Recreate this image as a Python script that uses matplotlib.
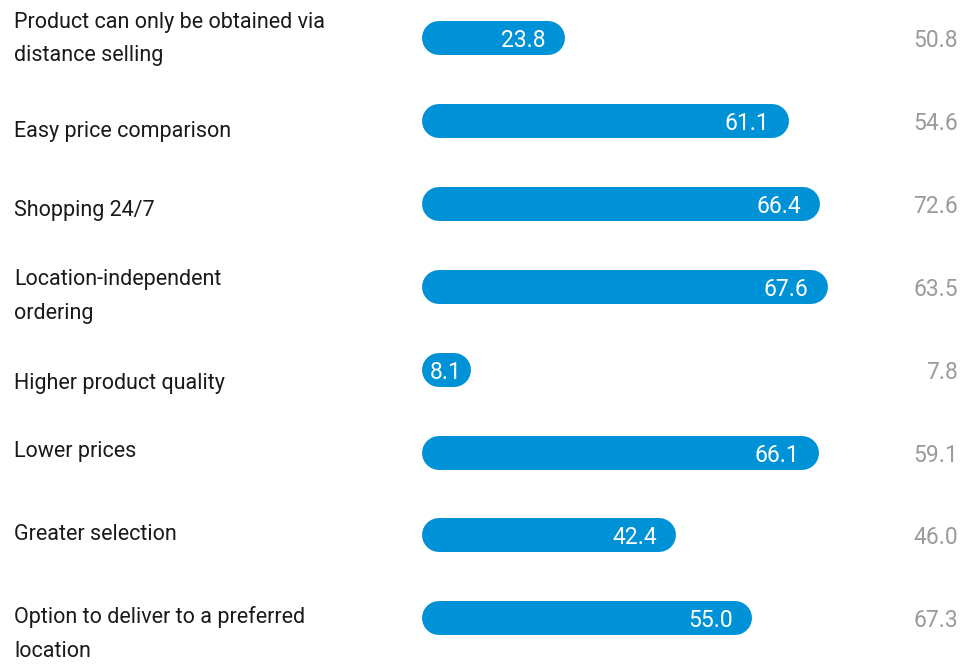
import matplotlib
matplotlib.use("Agg")
import matplotlib.pyplot as plt
from matplotlib.transforms import blended_transform_factory, offset_copy

# Reasons for buying online: current values (bars) and comparison values (right column)
categories = [
    "Product can only be obtained via\ndistance selling",
    "Easy price comparison",
    "Shopping 24/7",
    "Location-independent\nordering",
    "Higher product quality",
    "Lower prices",
    "Greater selection",
    "Option to deliver to a preferred\nlocation",
]
current_values = [23.8, 61.1, 66.4, 67.6, 8.1, 66.1, 42.4, 55.0]
comparison_values = [50.8, 54.6, 72.6, 63.5, 7.8, 59.1, 46.0, 67.3]

W, H, DPI = 964, 664, 100
BAR_COLOR = "#0092d6"
TEXT_COLOR = "#1a1a1a"
GRAY = "#9b9b9b"
FONT = ["Roboto", "DejaVu Sans"]
LABEL_SIZE = 15.5
VALUE_SIZE = 16.5

px_per_unit = 6.0          # horizontal scale of the bars
x0_px = 422                # left edge of the bars
row0_px, row_step_px = 38, 82.9
bar_h_px = 34
label_shift_px = [1, 11, 7, 10, 14, -1, -1, 16]   # fine vertical nudges for the labels

fig = plt.figure(figsize=(W / DPI, H / DPI), dpi=DPI)
ax = fig.add_axes([x0_px / W, 0, (W - x0_px) / W, 1])
ax.set_xlim(0, (W - x0_px) / px_per_unit)
ax.set_ylim((H - row0_px) / row_step_px, -row0_px / row_step_px)
ax.axis("off")

r_units = bar_h_px / 2 / px_per_unit
lw_pt = bar_h_px * 72 / DPI
val_tr = offset_copy(ax.transData, fig=fig, x=-19, y=0, units="dots")
val_tr_short = offset_copy(ax.transData, fig=fig, x=-9, y=0, units="dots")
lab_tr = blended_transform_factory(fig.transFigure, ax.transData)

for i, (cat, v, c) in enumerate(zip(categories, current_values, comparison_values)):
    # rounded bar: a thick line with round caps spanning 0..v
    ax.plot([r_units, v - r_units], [i, i], color=BAR_COLOR, lw=lw_pt,
            solid_capstyle="round", zorder=2)
    tr = val_tr if v * px_per_unit > 80 else val_tr_short
    ax.text(v, i, f"{v:.1f}", transform=tr, ha="right", va="center_baseline",
            color="white", fontsize=VALUE_SIZE, family=FONT, zorder=3)
    ax.text((W - 6 - x0_px) / px_per_unit, i, f"{c:.1f}", ha="right",
            va="center_baseline", color=GRAY, fontsize=VALUE_SIZE, family=FONT)
    ly = i + label_shift_px[i] / row_step_px
    ax.text(14 / W, ly, cat, transform=lab_tr, ha="left", va="center",
            color=TEXT_COLOR, fontsize=LABEL_SIZE, family=FONT, linespacing=1.8,
            clip_on=False)

fig.savefig("out.png", dpi=DPI, facecolor="white")
